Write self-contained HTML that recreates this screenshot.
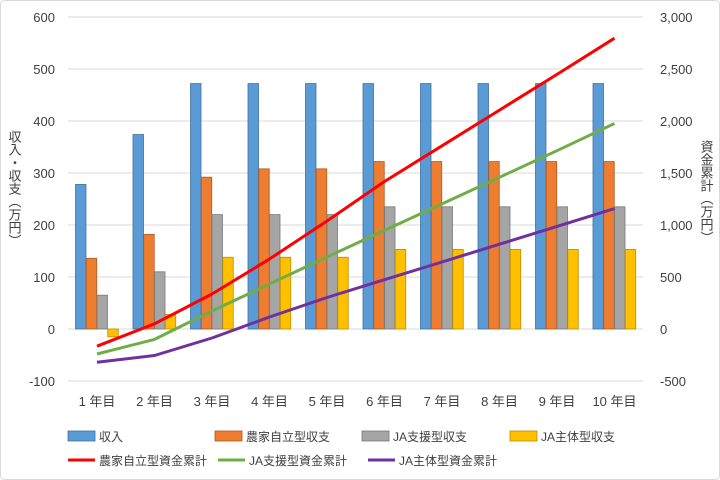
<!DOCTYPE html><html><head><meta charset="utf-8"><style>body{margin:0;background:#fff}svg{display:block;font-family:"Liberation Sans","Noto Sans CJK JP",sans-serif}
.a{fill:#5B9BD5;stroke:#41719C;stroke-width:.8}.b{fill:#ED7D31;stroke:#AE5A21;stroke-width:.8}.c{fill:#A5A5A5;stroke:#787878;stroke-width:.8}.d{fill:#FFC000;stroke:#BC8C00;stroke-width:.8}
text{fill:#404040;font-size:13px}.g line{stroke:#d9d9d9}.lg text{font-size:12px}</style></head><body>
<svg width="720" height="480" xmlns="http://www.w3.org/2000/svg">
<rect x="0.5" y="0.5" width="719" height="479" rx="4" fill="#fff" stroke="#d9d9d9"/>
<g class="g">
<line x1="68" x2="643" y1="381" y2="381"/><line x1="68" x2="643" y1="329" y2="329"/><line x1="68" x2="643" y1="277" y2="277"/><line x1="68" x2="643" y1="225" y2="225"/><line x1="68" x2="643" y1="173" y2="173"/><line x1="68" x2="643" y1="121" y2="121"/><line x1="68" x2="643" y1="69" y2="69"/><line x1="68" x2="643" y1="17" y2="17"/>
</g>
<g text-anchor="end">
<text x="55" y="386">-100</text><text x="55" y="334">0</text><text x="55" y="282">100</text><text x="55" y="230">200</text><text x="55" y="178">300</text><text x="55" y="126">400</text><text x="55" y="74">500</text><text x="55" y="22">600</text>
</g>
<g>
<text x="660" y="386">-500</text><text x="660" y="334">0</text><text x="660" y="282">500</text><text x="660" y="230">1,000</text><text x="660" y="178">1,500</text><text x="660" y="126">2,000</text><text x="660" y="74">2,500</text><text x="660" y="22">3,000</text>
</g>
<g transform="translate(97,0)"><rect class="a" x="-21.5" y="184.44" width="10.5" height="144.56"/><rect class="b" x="-10.75" y="258.28" width="10.5" height="70.72"/><rect class="c" x="0" y="295.2" width="10.5" height="33.8"/><rect class="d" x="10.75" y="329" width="10.5" height="7.8"/></g>
<g transform="translate(154.5,0)"><rect class="a" x="-21.5" y="134.52" width="10.5" height="194.48"/><rect class="b" x="-10.75" y="234.36" width="10.5" height="94.64"/><rect class="c" x="0" y="271.8" width="10.5" height="57.2"/><rect class="d" x="10.75" y="314.44" width="10.5" height="14.56"/></g>
<g transform="translate(212,0)"><rect class="a" x="-21.5" y="83.56" width="10.5" height="245.44"/><rect class="b" x="-10.75" y="177.16" width="10.5" height="151.84"/><rect class="c" x="0" y="214.6" width="10.5" height="114.4"/><rect class="d" x="10.75" y="257.24" width="10.5" height="71.76"/></g>
<g transform="translate(269.5,0)"><rect class="a" x="-21.5" y="83.56" width="10.5" height="245.44"/><rect class="b" x="-10.75" y="168.84" width="10.5" height="160.16"/><rect class="c" x="0" y="214.6" width="10.5" height="114.4"/><rect class="d" x="10.75" y="257.24" width="10.5" height="71.76"/></g>
<g transform="translate(327,0)"><rect class="a" x="-21.5" y="83.56" width="10.5" height="245.44"/><rect class="b" x="-10.75" y="168.84" width="10.5" height="160.16"/><rect class="c" x="0" y="214.6" width="10.5" height="114.4"/><rect class="d" x="10.75" y="257.24" width="10.5" height="71.76"/></g>
<g transform="translate(384.5,0)"><rect class="a" x="-21.5" y="83.56" width="10.5" height="245.44"/><rect class="b" x="-10.75" y="161.56" width="10.5" height="167.44"/><rect class="c" x="0" y="206.8" width="10.5" height="122.2"/><rect class="d" x="10.75" y="249.44" width="10.5" height="79.56"/></g>
<g transform="translate(442,0)"><rect class="a" x="-21.5" y="83.56" width="10.5" height="245.44"/><rect class="b" x="-10.75" y="161.56" width="10.5" height="167.44"/><rect class="c" x="0" y="206.8" width="10.5" height="122.2"/><rect class="d" x="10.75" y="249.44" width="10.5" height="79.56"/></g>
<g transform="translate(499.5,0)"><rect class="a" x="-21.5" y="83.56" width="10.5" height="245.44"/><rect class="b" x="-10.75" y="161.56" width="10.5" height="167.44"/><rect class="c" x="0" y="206.8" width="10.5" height="122.2"/><rect class="d" x="10.75" y="249.44" width="10.5" height="79.56"/></g>
<g transform="translate(557,0)"><rect class="a" x="-21.5" y="83.56" width="10.5" height="245.44"/><rect class="b" x="-10.75" y="161.56" width="10.5" height="167.44"/><rect class="c" x="0" y="206.8" width="10.5" height="122.2"/><rect class="d" x="10.75" y="249.44" width="10.5" height="79.56"/></g>
<g transform="translate(614.5,0)"><rect class="a" x="-21.5" y="83.56" width="10.5" height="245.44"/><rect class="b" x="-10.75" y="161.56" width="10.5" height="167.44"/><rect class="c" x="0" y="206.8" width="10.5" height="122.2"/><rect class="d" x="10.75" y="249.44" width="10.5" height="79.56"/></g>
<g text-anchor="middle">
<text x="97" y="406">1 年目</text><text x="154.5" y="406">2 年目</text><text x="212" y="406">3 年目</text><text x="269.5" y="406">4 年目</text><text x="327" y="406">5 年目</text><text x="384.5" y="406">6 年目</text><text x="442" y="406">7 年目</text><text x="499.5" y="406">8 年目</text><text x="557" y="406">9 年目</text><text x="614.5" y="406">10 年目</text>
</g>
<g fill="none" stroke-width="3" stroke-linejoin="round">
<polyline stroke="#FF0000" points="97,346.2 154.5,323.8 212,294 269.5,259 327,221 384.5,181.5 442,145.8 499.5,110.1 557,74.4 614.5,38.2"/>
<polyline stroke="#70AD47" points="97,354 154.5,339.4 212,311 269.5,284 327,257 384.5,230.4 442,203.9 499.5,177.3 557,150.7 614.5,123.5"/>
<polyline stroke="#7030A0" points="97,362.3 154.5,355.5 212,338 269.5,317 327,297.5 384.5,279.7 442,262 499.5,244.2 557,226.4 614.5,208.6"/>
</g>
<g class="lg">
<rect class="a" x="68" y="431" width="27" height="10"/><text x="99" y="441">収入</text>
<rect class="b" x="215" y="431" width="27" height="10"/><text x="246" y="441">農家自立型収支</text>
<rect class="c" x="362" y="431" width="27" height="10"/><text x="393" y="441">JA支援型収支</text>
<rect class="d" x="510" y="431" width="27" height="10"/><text x="541" y="441">JA主体型収支</text>
<line x1="68" x2="95" y1="460" y2="460" stroke="#FF0000" stroke-width="3"/><text x="99" y="465">農家自立型資金累計</text>
<line x1="218" x2="245" y1="460" y2="460" stroke="#70AD47" stroke-width="3"/><text x="249" y="465">JA支援型資金累計</text>
<line x1="368" x2="395" y1="460" y2="460" stroke="#7030A0" stroke-width="3"/><text x="399" y="465">JA主体型資金累計</text>
</g>
<text x="14" y="130" style="writing-mode:vertical-rl">収入・収支（万円）</text>
<text x="706" y="140" style="writing-mode:vertical-rl">資金累計（万円）</text>
</svg></body></html>
